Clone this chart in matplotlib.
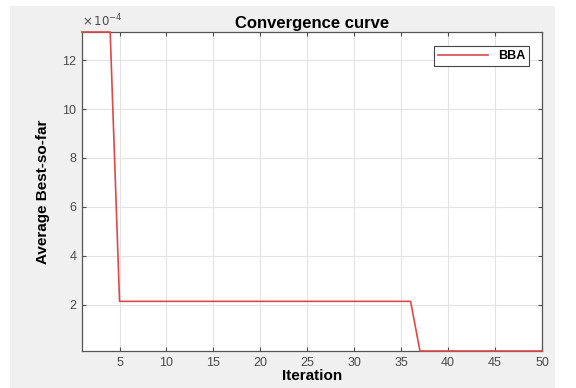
import matplotlib.pyplot as plt
import matplotlib.ticker as mticker
from matplotlib.patches import Rectangle

plt.rcParams["font.family"] = ["Liberation Sans", "DejaVu Sans"]

# ============================================================
# DATA
# ============================================================
iterations = list(range(1, 51))
best_so_far = [13.15e-4] * 4 + [2.14e-4] * 32 + [0.11e-4] * 14

x_ticks = [5, 10, 15, 20, 25, 30, 35, 40, 45, 50]
y_ticks = [2e-4, 4e-4, 6e-4, 8e-4, 10e-4, 12e-4]

# ============================================================
# FIGURE
# ============================================================
fig = plt.figure(figsize=(5.76, 3.88), dpi=100, facecolor="white")

# gray MATLAB-like window background
fig.patches.append(
    Rectangle((10 / 576, 0), (555 - 10) / 576, (388 - 6) / 388,
              transform=fig.transFigure, facecolor="#f0f0f0",
              edgecolor="none", zorder=-10)
)

ax = fig.add_axes([82 / 576, (388 - 351) / 388, (542 - 82) / 576, (351 - 32) / 388])
ax.set_facecolor("white")

tick_color = "#4a4a4a"

ax.plot(iterations, best_so_far, color="#d94a4a", linewidth=1.2, label="BBA",
        clip_on=False, zorder=5)

ax.set_xlim(1, 50)
ax.set_ylim(min(best_so_far), max(best_so_far))
ax.set_xticks(x_ticks)
ax.set_yticks(y_ticks)

# MATLAB-style exponent: labels 2..12 with "x10^-4" on top
ax.yaxis.set_major_formatter(mticker.FuncFormatter(lambda v, p: f"{v * 1e4:g}"))
ax.text(0.0, 1.008, r"$\times\,10^{-4}$", transform=ax.transAxes,
        fontsize=8.5, color=tick_color, ha="left", va="bottom")

ax.grid(True, color="#e3e3e3", linewidth=0.8)
ax.tick_params(direction="in", length=3, labelsize=9, colors=tick_color,
               top=True, right=True, pad=4)
for s in ax.spines.values():
    s.set_color("#555555")
    s.set_linewidth(0.9)

ax.set_title("Convergence curve", fontsize=12, fontweight="bold", pad=3)
ax.set_xlabel("Iteration", fontsize=11, fontweight="bold", labelpad=0)
ax.set_ylabel("Average Best-so-far", fontsize=11, fontweight="bold", labelpad=9)

leg = ax.legend(loc="upper right", fontsize=9, fancybox=False, framealpha=1,
                edgecolor="#444444", handlelength=4, borderpad=0.3,
                bbox_to_anchor=(0.985, 0.975))
for t in leg.get_texts():
    t.set_fontweight("bold")
leg.get_frame().set_linewidth(0.8)

fig.savefig("out.png", dpi=100, facecolor=fig.get_facecolor())
